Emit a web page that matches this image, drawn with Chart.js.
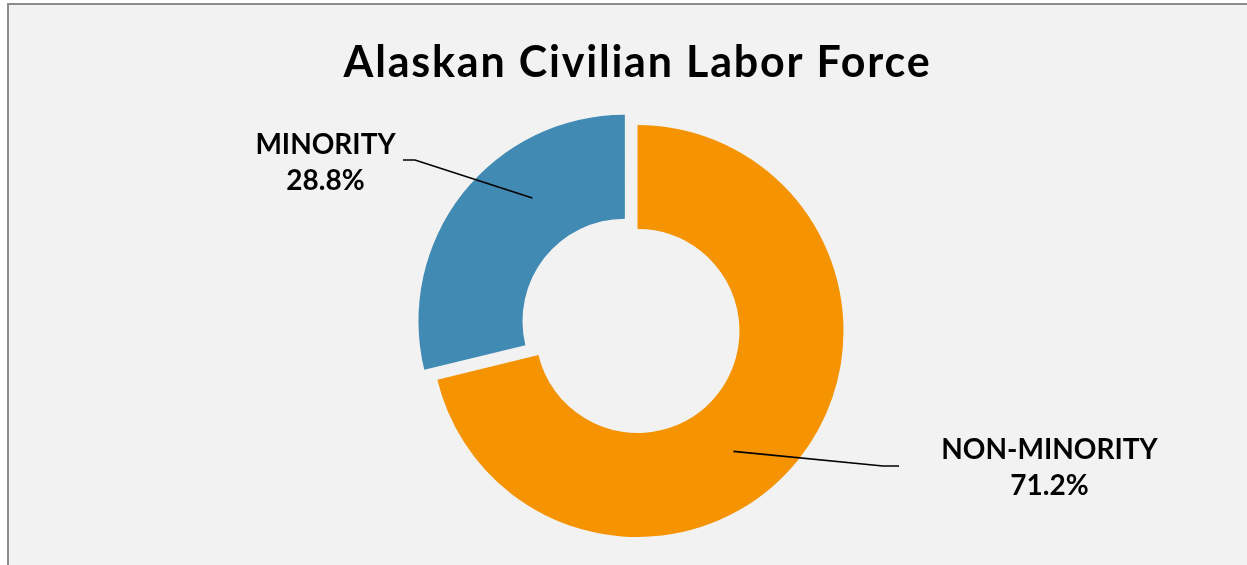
<!DOCTYPE html>
<html>
<head>
<meta charset="utf-8">
<title>Alaskan Civilian Labor Force</title>
<script src="https://cdn.jsdelivr.net/npm/chart.js@4.4.1/dist/chart.umd.min.js"></script>
<style>
  html, body { margin: 0; padding: 0; background: #ffffff; overflow: hidden; }
  #frame {
    position: absolute; left: 7px; top: 3px; width: 1240px; height: 562px;
    background: #f2f2f2; border-left: 2px solid #8c8c8c; border-top: 2px solid #8c8c8c;
  }
  #wrap { position: absolute; left: 0; top: 0; width: 1247px; height: 565px; }
</style>
</head>
<body>
<div id="frame"></div>
<div id="wrap"><canvas id="myChart"></canvas></div>
<script>
const categories = ["NON-MINORITY", "MINORITY"];
const shares = [71.2, 28.8];
const sliceColors = ["#f59300", "#418ab4"];
const explode = [0, 64];

// callout placement, relative to the doughnut centre
const callouts = [
  { turn: 13.3, textX: 412, textY: 128, lineEnd: [261.5, 135], elbow: -16 },
  { turn: 14.9, textX: -312, textY: -177, lineEnd: [-234.5, -171], elbow: 12 }
];

const labelFont = "bold 28px Lato";

// wider tracking for the title only
const titleSpacing = {
  id: "titleSpacing",
  beforeDraw(chart) {
    chart.ctx.letterSpacing = "1.8px";
  },
  beforeDatasetsDraw(chart) {
    chart.ctx.letterSpacing = "0px";
  }
};

const calloutLabels = {
  id: "calloutLabels",
  afterDatasetsDraw(chart) {
    const ctx = chart.ctx;
    const meta = chart.getDatasetMeta(0);
    meta.data.forEach(function (arc, i) {
      const p = arc.getProps(["x", "y", "startAngle", "endAngle", "innerRadius", "outerRadius"]);
      const mid = (p.startAngle + p.endAngle) / 2;
      const shift = explode[i] / 4;
      const cx = p.x + Math.cos(mid) * shift;
      const cy = p.y + Math.sin(mid) * shift;
      const c = callouts[i];
      const a = mid + c.turn * Math.PI / 180;
      const r = (p.innerRadius + p.outerRadius) / 2;

      const endX = p.x + c.lineEnd[0];
      const endY = p.y + c.lineEnd[1];

      ctx.save();
      ctx.strokeStyle = "#000000";
      ctx.lineWidth = 1.7;
      ctx.beginPath();
      ctx.moveTo(cx + Math.cos(a) * r, cy + Math.sin(a) * r);
      ctx.lineTo(endX + c.elbow, endY);
      ctx.lineTo(endX, endY);
      ctx.stroke();

      ctx.fillStyle = "#000000";
      ctx.font = labelFont;
      ctx.textAlign = "center";
      ctx.textBaseline = "alphabetic";
      ctx.fillText(categories[i], p.x + c.textX, p.y + c.textY);
      ctx.fillText(shares[i].toFixed(1) + "%", p.x + c.textX, p.y + c.textY + 36);
      ctx.restore();
    });
  }
};

const ctx = document.getElementById("myChart").getContext("2d");
const myChart = new Chart(ctx, {
  type: "doughnut",
  data: {
    labels: categories,
    datasets: [
      {
        data: shares,
        backgroundColor: sliceColors,
        borderWidth: 0,
        offset: explode,
        hoverOffset: 0,
      },
    ],
  },
  options: {
    responsive: true,
    maintainAspectRatio: false,
    animation: false,
    radius: 206,
    cutout: "49.5%",
    layout: { padding: { left: 28, right: 0, top: 0, bottom: 0 } },
    plugins: {
      legend: { display: false },
      tooltip: { enabled: false },
      title: {
        display: true,
        text: "Alaskan Civilian Labor Force",
        color: "#000000",
        font: { family: "Lato", size: 43, weight: "bold", lineHeight: 1.2 },
        padding: { top: 37, bottom: 8.4 },
      },
    },
  },
  plugins: [titleSpacing, calloutLabels],
});
</script>
</body>
</html>
